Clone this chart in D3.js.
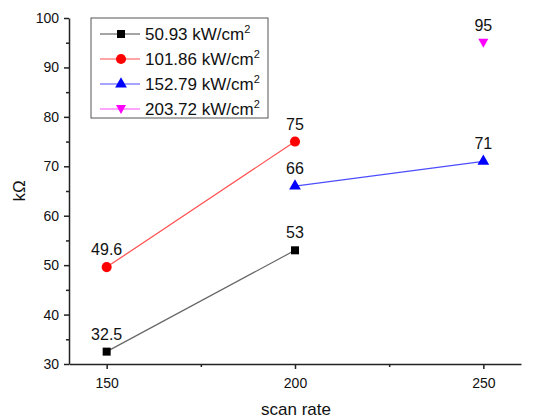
<!DOCTYPE html>
<html>
<head>
<meta charset="utf-8">
<style>
  body { margin: 0; background: #fff; }
  svg { font-family: "Liberation Sans", Arial, sans-serif; }
</style>
</head>
<body>
<svg width="536" height="420"></svg>
<script src="https://d3js.org/d3.v7.min.js"></script>
<script>
// scan rate on x, resistance (kOhm) on y
var seriesNames = ["50.93 kW/cm", "101.86 kW/cm", "152.79 kW/cm", "203.72 kW/cm"];
var seriesColors = ["#000000", "#ff0000", "#0000ff", "#ff00ff"];
var seriesSymbols = ["square", "circle", "triangle", "triangleDown"];
var scanRates1 = [150, 200], values1 = [32.5, 53];
var scanRates2 = [150, 200], values2 = [49.6, 75];
var scanRates3 = [200, 250], values3 = [66, 71];
var scanRates4 = [250], values4 = [95];
var pointLabels = [["32.5", "53"], ["49.6", "75"], ["66", "71"], ["95"]];
var xTicks = [150, 200, 250];
var yTicks = [30, 40, 50, 60, 70, 80, 90, 100];

var svg = d3.select("svg");
var mLeft = 69, mRight = 521, mTop = 18, mBottom = 364;

var x = d3.scaleLinear().domain([140, 260]).range([mLeft, mRight]);
var y = d3.scaleLinear().domain([30, 100]).range([mBottom, mTop]);

var series = [
  { xs: scanRates1, ys: values1 },
  { xs: scanRates2, ys: values2 },
  { xs: scanRates3, ys: values3 },
  { xs: scanRates4, ys: values4 }
];

// axes
svg.append("g").attr("transform", "translate(0," + mBottom + ")")
  .call(d3.axisBottom(x).tickValues(xTicks).tickSize(5).tickPadding(9).tickSizeOuter(0));
svg.append("g").attr("transform", "translate(0," + mBottom + ")")
  .call(d3.axisBottom(x).tickValues([175, 225]).tickSize(3).tickFormat("").tickSizeOuter(0))
  .select(".domain").remove();
svg.append("g").attr("transform", "translate(" + mLeft + ",0)")
  .call(d3.axisLeft(y).tickValues(yTicks).tickSize(5).tickPadding(5).tickSizeOuter(0));
svg.append("g").attr("transform", "translate(" + mLeft + ",0)")
  .call(d3.axisLeft(y).tickValues([35, 45, 55, 65, 75, 85, 95]).tickSize(3).tickFormat("").tickSizeOuter(0))
  .select(".domain").remove();

svg.selectAll(".tick text").attr("font-size", 14).attr("fill", "#111")
  .attr("font-family", "Liberation Sans, Arial, sans-serif");
svg.selectAll(".domain, .tick line").attr("stroke", "#222").attr("stroke-width", 1.5);

svg.append("text").attr("x", 296).attr("y", 415).attr("text-anchor", "middle")
  .attr("font-size", 17).attr("fill", "#111").text("scan rate");
svg.append("text").attr("transform", "translate(25,191) rotate(-90)")
  .attr("text-anchor", "middle").attr("font-size", 17).attr("fill", "#111").text("kΩ");

function symbolPath(kind) {
  if (kind === "square") return d3.symbol(d3.symbolSquare, 64)();
  if (kind === "circle") return d3.symbol(d3.symbolCircle, 80)();
  if (kind === "triangle") return d3.symbol(d3.symbolTriangle, 60)();
  return "M-5,-4L5,-4L0,5Z";
}

var line = d3.line().x(function(d) { return x(d[0]); }).y(function(d) { return y(d[1]); });

series.forEach(function(s, i) {
  var pts = s.xs.map(function(v, j) { return [v, s.ys[j]]; });
  if (pts.length > 1) {
    svg.append("path").datum(pts).attr("d", line).attr("fill", "none")
      .attr("stroke", seriesColors[i]).attr("stroke-opacity", i === 0 ? 0.6 : 0.7).attr("stroke-width", 1.2);
  }
  svg.selectAll(".pt" + i).data(pts).enter().append("path")
    .attr("transform", function(d) { return "translate(" + x(d[0]) + "," + y(d[1]) + ")"; })
    .attr("d", symbolPath(seriesSymbols[i])).attr("fill", seriesColors[i]);
  svg.selectAll(".lb" + i).data(pts).enter().append("text")
    .attr("x", function(d) { return x(d[0]); })
    .attr("y", function(d) { return y(d[1]) - 12; })
    .attr("text-anchor", "middle").attr("font-size", 16).attr("fill", "#111")
    .text(function(d, j) { return pointLabels[i][j]; });
});

// legend
var lg = svg.append("g");
lg.append("rect").attr("x", 91).attr("y", 18).attr("width", 177).attr("height", 100)
  .attr("fill", "#fff").attr("stroke", "#555").attr("stroke-width", 1);
seriesNames.forEach(function(name, i) {
  var ly = 34 + i * 25;
  lg.append("line").attr("x1", 100).attr("x2", 140).attr("y1", ly).attr("y2", ly)
    .attr("stroke", seriesColors[i]).attr("stroke-opacity", 0.7).attr("stroke-width", 1.2);
  lg.append("path").attr("transform", "translate(121," + ly + ")")
    .attr("d", symbolPath(seriesSymbols[i])).attr("fill", seriesColors[i]);
  var t = lg.append("text").attr("x", 145).attr("y", ly + 6).attr("font-size", 17).attr("fill", "#111");
  t.append("tspan").text(name);
  t.append("tspan").attr("dy", -7).attr("font-size", 11).text("2");
});
</script>
</body>
</html>
